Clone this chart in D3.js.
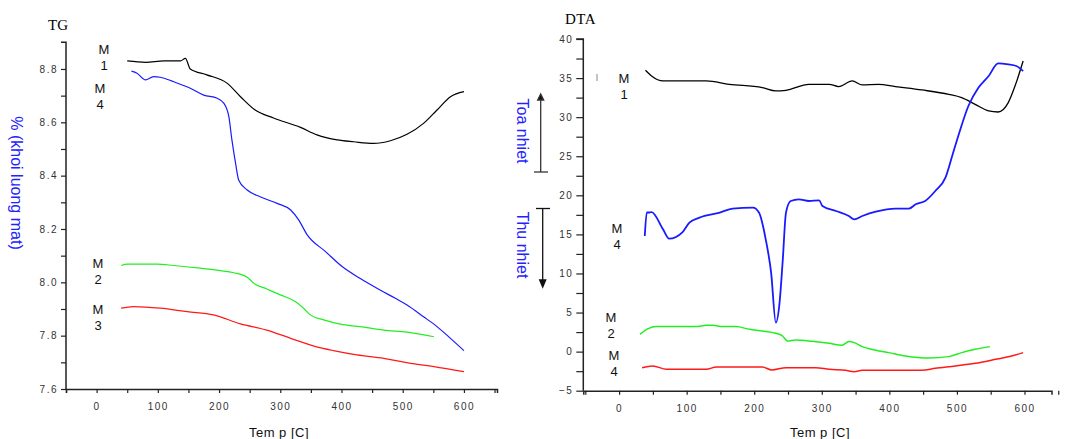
<!DOCTYPE html>
<html><head><meta charset="utf-8">
<script src="https://cdn.jsdelivr.net/npm/d3@7"></script>
<style>body{margin:0;background:#fff}svg{display:block}</style>
</head><body>
<svg id="c" width="1066" height="439"></svg>
<script>
// ---------- DATA ----------
// TG (left) – temperature [C] and % mass
const tgM1T = [50,80,110,137,145,153,180,213,235,259,289,333,360,393,420,452,480,507,534,556,578,600];
const tgM1V = [8.83,8.825,8.83,8.83,8.84,8.80,8.778,8.747,8.696,8.646,8.616,8.581,8.553,8.534,8.527,8.521,8.531,8.555,8.596,8.646,8.696,8.715];
const tgM4T = [57,66,80,93,104,126,153,175,197,208,216,221,227,232,246,267,295,317,330,344,374,401,430,463,488,507,534,556,578,600];
const tgM4V = [8.792,8.784,8.759,8.771,8.769,8.752,8.728,8.702,8.69,8.671,8.621,8.534,8.446,8.384,8.346,8.321,8.296,8.271,8.234,8.178,8.115,8.059,8.015,7.971,7.94,7.915,7.871,7.834,7.79,7.744];
const tgM2T = [40,50,99,126,169,202,224,246,257,278,300,325,338,349,371,398,430,469,507,551];
const tgM2V = [8.063,8.068,8.068,8.063,8.053,8.044,8.036,8.019,7.996,7.975,7.953,7.927,7.903,7.878,7.859,7.843,7.834,7.821,7.813,7.796];
const tgM3T = [40,60,104,148,191,235,278,317,355,387,425,469,513,551,600];
const tgM3V = [7.903,7.909,7.903,7.89,7.878,7.844,7.821,7.79,7.761,7.744,7.728,7.715,7.696,7.684,7.665];

// DTA (right)
const dtaM1T = [39,48,65,129,163,212,232,247,281,311,325,345,360,384,409,448,488,507,527,547,561,576,586,598];
const dtaM1V = [36.0,35.27,34.63,34.63,34.2,33.78,33.35,33.44,34.2,34.2,33.91,34.63,34.12,34.2,33.91,33.48,32.92,32.5,31.64,30.79,30.66,31.86,33.98,37.19];
const dtaM4T = [38,41,45,48,65,74,94,104,119,149,168,198,207,217,225,232,237,242,247,254,266,281,296,301,321,340,348,360,380,409,429,439,453,468,483,493,502,517,532,547,561,576,588,598];
const dtaM4V = [14.8,17.8,17.8,17.86,15.65,14.46,15.3,16.5,17.15,17.79,18.3,18.42,17.79,14.37,10.1,3.7,5.84,11.4,17.79,19.27,19.49,19.27,19.36,18.63,17.99,17.35,16.93,17.35,17.9,18.3,18.3,18.85,19.27,20.55,22.26,25.03,27.59,31.43,33.78,35.27,36.89,36.76,36.55,35.9];
const dtaM2T = [31,43,55,114,129,139,153,173,193,212,232,242,249,262,286,311,330,340,348,360,380,399,424,458,488,507,527,549];
const dtaM2V = [2.21,2.94,3.2,3.2,3.37,3.37,3.2,3.2,2.85,2.64,2.34,2.0,1.36,1.49,1.32,1.06,0.81,1.28,1.15,0.64,0.17,-0.13,-0.56,-0.82,-0.64,-0.13,0.3,0.64];
const dtaM3T = [34,50,70,129,144,212,226,247,291,311,335,348,360,448,468,498,527,557,581,598];
const dtaM3V = [-2.05,-1.84,-2.26,-2.26,-1.97,-1.97,-2.35,-2.05,-2.05,-2.26,-2.39,-2.56,-2.39,-2.39,-2.14,-1.84,-1.5,-0.99,-0.56,-0.13];

const xTicks = [0,100,200,300,400,500,600];
const tgYTicks = [7.6,7.8,8.0,8.2,8.4,8.6,8.8];
const dtaYTicks = [-5,0,5,10,15,20,25,30,35,40];

// ---------- DRAW ----------
const svg = d3.select("#c");
const zip = (t,v) => t.map((d,i)=>[d,v[i]]);
const tickFont = "Arial, 'Liberation Sans', sans-serif";

function axes(g, x, y, yTicks, yMinor, xMinor, yFmt, ylen){
  const ya = d3.axisLeft(y).tickValues(yMinor).tickSize(ylen).tickFormat(d => yTicks.some(t=>Math.abs(t-d)<1e-9) ? yFmt(d) : "");
  const gy = g.append("g").attr("transform",`translate(${x.range()[0]},0)`).call(ya);
  const xa = d3.axisBottom(x).tickValues(xMinor).tickSize(4).tickFormat(d => xTicks.includes(d) ? d : "");
  const gx = g.append("g").attr("transform",`translate(0,${y.range()[0]})`).call(xa);
  [gx,gy].forEach(a=>{
    a.select(".domain").attr("stroke","#222").attr("stroke-width",1.5);
    a.selectAll(".tick line").attr("stroke","#222").attr("stroke-width",1.2);
    a.selectAll("text").attr("fill","#333").attr("font-family",tickFont).attr("font-size",10).attr("letter-spacing","1.5px");
  });
  gx.selectAll("text").attr("dy","1.4em");
  return {gx,gy};
}

function label(x, y, a, b){
  const t = svg.append("text").attr("font-family",tickFont).attr("font-size",13).attr("fill","#111").attr("text-anchor","middle");
  t.append("tspan").attr("x",x).attr("y",y).text(a);
  t.append("tspan").attr("x",x).attr("y",y+16).text(b);
}

// Left TG chart
const x1 = d3.scaleLinear().domain([-50,654]).range([66,497]);
const y1 = d3.scaleLinear().domain([7.6,8.9]).range([389,42.3]);
const g1 = svg.append("g");
const xMinor = d3.range(-50,651,50);
const a1 = axes(g1, x1, y1, tgYTicks, d3.range(0,13).map(i=>+(7.6+i*0.1).toFixed(1)), xMinor, d3.format(".1f"), 5);
a1.gy.select(".domain").attr("d",`M-5,${y1(8.9)}H0V${y1(7.6)}`);
const line1 = d3.line().x(d=>x1(d[0])).y(d=>y1(d[1])).curve(d3.curveMonotoneX);
[[tgM1T,tgM1V,"#000"],[tgM4T,tgM4V,"#1a1aff"],[tgM2T,tgM2V,"#22ee22"],[tgM3T,tgM3V,"#ff1a1a"]].forEach(([t,v,c])=>{
  g1.append("path").datum(zip(t,v)).attr("d",line1).attr("fill","none").attr("stroke",c).attr("stroke-width",1.2);
});
svg.append("text").attr("x",48).attr("y",30).attr("font-family","'Liberation Serif', 'DejaVu Serif', serif").attr("font-size",15).text("TG");
svg.append("text").attr("transform","translate(11,183) rotate(90)").attr("text-anchor","middle").attr("font-family",tickFont).attr("font-size",16).attr("fill","#2222ff").text("% (khoi luong mat)");
svg.append("text").attr("x",279).attr("y",437).attr("text-anchor","middle").attr("font-family",tickFont).attr("font-size",13).attr("letter-spacing","0.5px").attr("fill","#111").text("Tem p [C]");
label(104,54,"M","1");
label(100,93,"M","4");
label(98,268,"M","2");
label(98,314,"M","3");

// Right DTA chart
const x2 = d3.scaleLinear().domain([-53,640]).range([583.3,1051.5]);
const y2 = d3.scaleLinear().domain([-5,40]).range([390.7,39]);
const g2 = svg.append("g");
const a2 = axes(g2, x2, y2, dtaYTicks, d3.range(-5,40.1,2.5), xMinor, d3.format("d"), 7);
a2.gy.select(".domain").attr("d",`M-7,${y2(40)}H0V${y2(-5)}`);
const line2 = d3.line().x(d=>x2(d[0])).y(d=>y2(d[1])).curve(d3.curveMonotoneX);
[[dtaM1T,dtaM1V,"#000",1.3],[dtaM4T,dtaM4V,"#1a1aff",1.8],[dtaM2T,dtaM2V,"#22ee22",1.5],[dtaM3T,dtaM3V,"#ff1a1a",1.5]].forEach(([t,v,c,w])=>{
  g2.append("path").datum(zip(t,v)).attr("d",line2).attr("fill","none").attr("stroke",c).attr("stroke-width",w);
});
svg.append("text").attr("x",565).attr("y",24).attr("font-family","'Liberation Serif', 'DejaVu Serif', serif").attr("font-size",15).attr("letter-spacing","0.5px").text("DTA");
svg.append("text").attr("x",820).attr("y",437).attr("text-anchor","middle").attr("font-family",tickFont).attr("font-size",13).attr("letter-spacing","0.5px").attr("fill","#111").text("Tem p [C]");
svg.append("line").attr("x1",597).attr("x2",597).attr("y1",74).attr("y2",81).attr("stroke","#888").attr("stroke-width",1);
label(624,83,"M","1");
label(617,233,"M","4");
label(611,322,"M","2");
label(614,360,"M","4");

// Toa nhiet / Thu nhiet indicators
svg.append("text").attr("transform","translate(517,131) rotate(90)").attr("text-anchor","middle").attr("font-family",tickFont).attr("font-size",16).attr("fill","#2222ff").text("Toa nhiet");
svg.append("text").attr("transform","translate(517,245) rotate(90)").attr("text-anchor","middle").attr("font-family",tickFont).attr("font-size",16).attr("fill","#2222ff").text("Thu nhiet");
const ind = svg.append("g").attr("stroke","#333").attr("stroke-width",1.3);
ind.append("line").attr("x1",540.7).attr("x2",540.7).attr("y1",95).attr("y2",172);
ind.append("line").attr("x1",534).attr("x2",548).attr("y1",172).attr("y2",172);
ind.append("path").attr("d","M537.7,100 L540.7,94 L543.7,100 Z").attr("fill","#111");
const ind2 = svg.append("g").attr("stroke","#111").attr("stroke-width",1.3);
ind2.append("line").attr("x1",542.7).attr("x2",542.7).attr("y1",208.5).attr("y2",286);
ind2.append("line").attr("x1",536).attr("x2",550).attr("y1",208.5).attr("y2",208.5);
ind2.append("path").attr("d","M539.7,280 L542.7,287 L545.7,280 Z").attr("fill","#111");
</script>
</body></html>
